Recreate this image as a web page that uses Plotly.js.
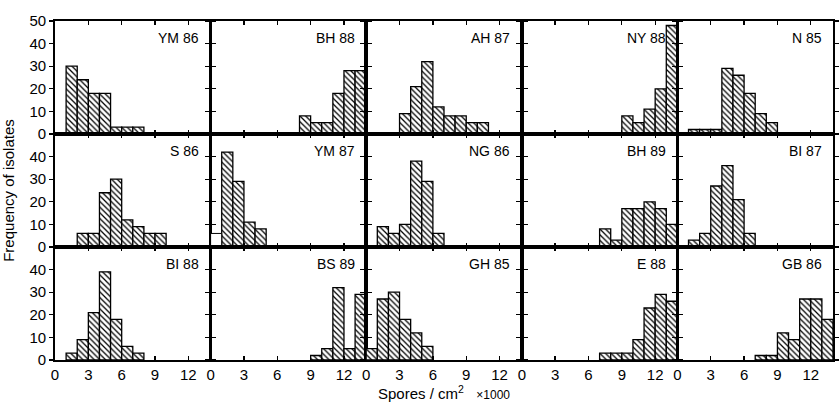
<!DOCTYPE html>
<html><head><meta charset="utf-8">
<script src="https://cdn.plot.ly/plotly-3.0.1.min.js"></script>
<style>body{margin:0;background:#fff}#chart{width:840px;height:402px}</style>
</head><body><div id="chart"></div>
<script>
const panelNames = ["YM 86","BH 88","AH 87","NY 88","N 85","S 86","YM 87","NG 86","BH 89","BI 87","BI 88","BS 89","GH 85","E 88","GB 86"];

const ym86Bins=[1,2,3,4,5,6,7],        ym86Counts=[30,24,18,18,3,3,3];
const bh88Bins=[8,9,10,11,12,13],      bh88Counts=[8,5,5,18,28,28];
const ah87Bins=[3,4,5,6,7,8,9,10],     ah87Counts=[9,21,32,12,8,8,5,5];
const ny88Bins=[9,10,11,12,13],        ny88Counts=[8,5,11,20,48];
const n85Bins=[1,2,3,4,5,6,7,8],       n85Counts=[2,2,2,29,26,18,9,5];
const s86Bins=[2,3,4,5,6,7,8,9],       s86Counts=[6,6,24,30,12,9,6,6];
const ym87Bins=[1,2,3,4],              ym87Counts=[42,29,11,8];
const ng86Bins=[1,2,3,4,5,6],          ng86Counts=[9,6,10,38,29,6];
const bh89Bins=[7,8,9,10,11,12,13],    bh89Counts=[8,3,17,17,20,17,10];
const bi87Bins=[1,2,3,4,5,6],          bi87Counts=[3,6,27,36,21,6];
const bi88Bins=[1,2,3,4,5,6,7],        bi88Counts=[3,9,21,39,18,6,3];
const bs89Bins=[9,10,11,12,13],        bs89Counts=[2,5,32,5,29];
const gh85Bins=[0,1,2,3,4,5],          gh85Counts=[5,27,30,18,12,6];
const e88Bins=[7,8,9,10,11,12,13],     e88Counts=[3,3,3,9,23,29,26];
const gb86Bins=[7,8,9,10,11,12,13],    gb86Counts=[2,2,12,9,27,27,18];
const ym87OutlineBins=[0],             ym87OutlineCounts=[6];

const panelBins=[ym86Bins,bh88Bins,ah87Bins,ny88Bins,n85Bins,s86Bins,ym87Bins,ng86Bins,bh89Bins,bi87Bins,bi88Bins,bs89Bins,gh85Bins,e88Bins,gb86Bins];
const panelCounts=[ym86Counts,bh88Counts,ah87Counts,ny88Counts,n85Counts,s86Counts,ym87Counts,ng86Counts,bh89Counts,bi87Counts,bi88Counts,bs89Counts,gh85Counts,e88Counts,gb86Counts];

const xTickVals=[0,3,6,9,12];
const xTickText=["0","3","6","9","12"];
const yTickValsTop=[0,10,20,30,40,50];
const yTickValsLower=[0,10,20,30,40];

const FONT="Liberation Sans, Arial, sans-serif";
const traces=[]; const layout={
  width:840,height:402,showlegend:false,
  paper_bgcolor:"#fff",plot_bgcolor:"#fff",
  margin:{l:55,r:7,t:21,b:42},
  font:{family:FONT,size:15,color:"#000"},
  bargap:0, annotations:[]
};
for(let i=0;i<15;i++){
  const r=Math.floor(i/5), c=i%5, n=i+1;
  const xa="x"+(n===1?"":n), ya="y"+(n===1?"":n);
  traces.push({type:"bar",x:panelBins[i],y:panelCounts[i],offset:0,width:1,xaxis:xa,yaxis:ya,
    marker:{color:"#fff",line:{color:"#000",width:1.3},pattern:{shape:"\\",fgcolor:"#000",bgcolor:"#fff",size:4,solidity:0.32}},
    hoverinfo:"skip"});
  layout["xaxis"+(n===1?"":n)]={domain:[c/5,(c+1)/5],anchor:ya,range:[0,14],showline:true,linecolor:"#000",linewidth:1.8,
    mirror:"allticks",ticks:"inside",ticklen:4,tickwidth:1.3,tickcolor:"#000",tickvals:xTickVals,ticktext:xTickText,
    showticklabels:r===2,showgrid:false,zeroline:false,fixedrange:true,tickfont:{size:15}};
  layout["yaxis"+(n===1?"":n)]={domain:[1-(r+1)/3,1-r/3],anchor:xa,range:[0,50],showline:true,linecolor:"#000",linewidth:1.8,
    mirror:"allticks",ticks:"outside",ticklen:4,tickwidth:1.3,tickcolor:"#000",tickvals:(r===0?yTickValsTop:yTickValsLower),
    showticklabels:c===0,showgrid:false,zeroline:false,fixedrange:true,tickfont:{size:15}};
  layout.annotations.push({xref:xa+" domain",yref:ya+" domain",x:0.94,y:0.85,xanchor:"right",yanchor:"middle",
    text:panelNames[i],showarrow:false,font:{size:14,family:FONT}});
}
traces.push({type:"bar",x:ym87OutlineBins,y:ym87OutlineCounts,offset:0,width:1,xaxis:"x7",yaxis:"y7",
  marker:{color:"#fff",line:{color:"#000",width:1}},hoverinfo:"skip"});
layout.yaxis6.title={text:"Frequency of isolates",font:{size:15},standoff:14};
layout.xaxis13.title={text:"Spores / cm<sup>2</sup>   <span style='font-size:12px'>×1000</span>",font:{size:15},standoff:8};
Plotly.newPlot("chart",traces,layout,{displayModeBar:false,staticPlot:true});
</script></body></html>
